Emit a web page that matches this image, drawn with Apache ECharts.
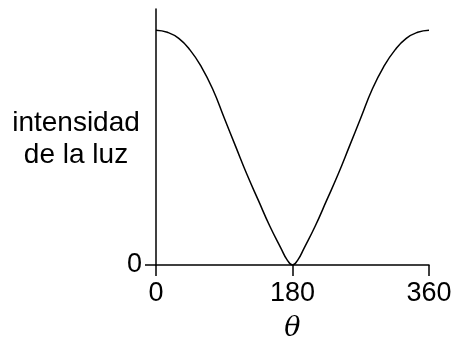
<!DOCTYPE html>
<html>
<head>
<meta charset="utf-8">
<script src="https://cdn.jsdelivr.net/npm/echarts@6/dist/echarts.min.js"></script>
<style>
  html, body { margin: 0; padding: 0; background: #fff; }
</style>
</head>
<body>
<div id="chart" style="width: 455px;height: 338px;"></div>
<script>
// angulo (grados) e intensidad relativa
const angles = [0, 15, 30, 45, 60, 75, 90, 105, 120, 135, 150, 165, 172.5, 180,
  187.5, 195, 210, 225, 240, 255, 270, 285, 300, 315, 330, 345, 360]
const intensity = [1, 0.991, 0.965, 0.915, 0.843, 0.747, 0.626, 0.505, 0.385, 0.275, 0.166, 0.07, 0.024, 0,
  0.024, 0.07, 0.166, 0.275, 0.385, 0.505, 0.626, 0.747, 0.843, 0.915, 0.965, 0.991, 1]
const xTicks = [0, 180, 360]
const yTicks = [0]
const yTitle = 'intensidad\nde la luz'

const chart = echarts.init(document.getElementById('chart'))

const font = 'Liberation Sans, Arial, sans-serif'

chart.setOption({
  animation: false,
  grid: {
    left: 156,
    right: 26,
    top: 9,
    bottom: 73,
    containLabel: false,
    outerBoundsMode: 'none'
  },
  graphic: [
    {
      type: 'text',
      x: 76,
      y: 139,
      style: {
        text: yTitle,
        fill: '#000',
        fontSize: 28,
        fontFamily: font,
        lineHeight: 32,
        align: 'center',
        verticalAlign: 'middle'
      }
    }
  ],
  xAxis: {
    type: 'value',
    min: 0,
    max: 360,
    interval: 180,
    name: 'θ',
    nameLocation: 'middle',
    nameGap: 50,
    nameTextStyle: {
      fontFamily: 'DejaVu Serif, Liberation Serif, serif',
      fontStyle: 'italic',
      fontSize: 27,
      color: '#000'
    },
    axisLine: { lineStyle: { color: '#000', width: 1.5 } },
    axisTick: {
      customValues: xTicks,
      length: 11,
      lineStyle: { color: '#000', width: 1.5 }
    },
    axisLabel: {
      customValues: xTicks,
      margin: 15,
      fontSize: 27,
      fontFamily: font,
      color: '#000'
    },
    splitLine: { show: false }
  },
  yAxis: {
    type: 'value',
    min: 0,
    max: 1.09,
    axisLine: { show: true, lineStyle: { color: '#000', width: 1.5 } },
    axisTick: {
      show: true,
      customValues: yTicks,
      length: 11,
      lineStyle: { color: '#000', width: 1.5 }
    },
    axisLabel: {
      customValues: yTicks,
      margin: 14,
      fontSize: 27,
      fontFamily: font,
      color: '#000'
    },
    splitLine: { show: false }
  },
  series: [
    {
      type: 'line',
      data: angles.map((a, i) => [a, intensity[i]]),
      smooth: true,
      showSymbol: false,
      lineStyle: { color: '#000', width: 1.5 }
    }
  ]
})
</script>
</body>
</html>
